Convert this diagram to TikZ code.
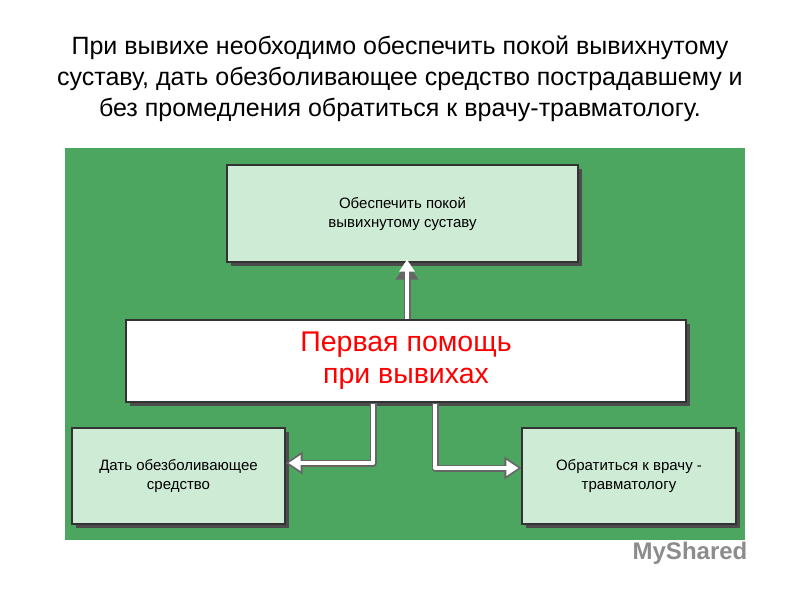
\documentclass[tikz,border=0pt]{standalone}
\usepackage{fontspec}
\setmainfont{Liberation Sans}
\usetikzlibrary{arrows.meta}
\definecolor{bg}{RGB}{76,166,96}
\definecolor{lg}{RGB}{205,235,213}
\tikzset{
 box/.style={draw=black!80, line width=1.2pt, fill=lg, align=center, font=\fontsize{15}{19}\selectfont, inner sep=0pt},
 outer/.style={line width=7pt, draw=black!60, line join=round, -{Triangle[length=17pt,width=22pt]}},
 inner/.style={line width=4pt, draw=white, line join=round, -{Triangle[length=12pt,width=15pt,fill=white]}}
}
\begin{document}
\begin{tikzpicture}[x=1pt,y=-1pt]
\useasboundingbox (0,0) rectangle (800,600);
\fill[white] (0,0) rectangle (800,600);
\node[align=center, font=\fontsize{25}{31}\selectfont] (title) at (400,79) {При вывихе необходимо обеспечить покой вывихнутому\\суставу, дать обезболивающее средство пострадавшему и\\без промедления обратиться к врачу-травматологу.};
\fill[bg] (65,148) rectangle (745,540);
% shadows
\fill[black!70] (231,169) rectangle (582,266);
\fill[black!70] (130,324) rectangle (690,406);
\fill[black!70] (76,432) rectangle (289,528);
\fill[black!70] (526,432) rectangle (740,528);
\node[box, minimum width=351pt, minimum height=97pt] (top) at (402.5,213.5) {Обеспечить покой\\вывихнутому суставу};
\node[box, fill=white, text=red, minimum width=560pt, minimum height=82pt, font=\fontsize{28.5}{32}\selectfont] (mid) at (406,361) {Первая помощь\\при вывихах};
\node[box, minimum width=213pt, minimum height=96pt] (left) at (178.5,476) {Дать обезболивающее\\средство};
\node[box, minimum width=214pt, minimum height=96pt] (right) at (629,476) {Обратиться к врачу -\\травматологу};
\coordinate (lc) at (373,463);
\coordinate (rc) at (435,468);
\draw[outer] (mid.north -| top.south) ++(4.5,0) coordinate (u0) -- (u0 |- top.south);
\draw[inner] (u0) -- ([yshift=3pt]u0 |- top.south);
\draw[outer] (mid.south -| lc) -- (lc) -- (lc -| left.east);
\draw[inner] ([yshift=-1pt]mid.south -| lc) -- (lc) -- ([xshift=3pt]lc -| left.east);
\draw[outer] (mid.south -| rc) -- (rc) -- (rc -| right.west);
\draw[inner] ([yshift=-1pt]mid.south -| rc) -- (rc) -- ([xshift=-3pt]rc -| right.west);
\node[text=black!45, font=\fontsize{24}{28}\selectfont\bfseries] (wm) at (690,553) {MyShared};
\end{tikzpicture}
\end{document}
